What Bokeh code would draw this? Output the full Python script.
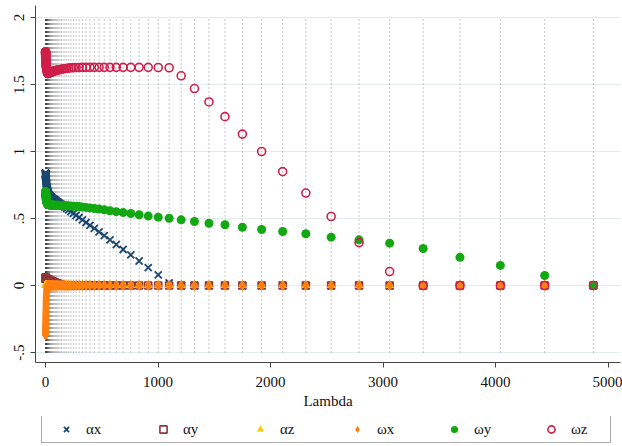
from bokeh.plotting import figure
from bokeh.layouts import column
from bokeh.models import Range1d, FixedTicker, Legend, LegendItem, ColumnDataSource
from bokeh.embed import file_html
from bokeh.resources import INLINE

# Lambda grid (x values)
lam = [4870, 4437, 4043, 3684, 3357, 3059, 2787, 2539, 2314, 2108,
       1921, 1750, 1595, 1453, 1324, 1206, 1099, 1002, 913, 832,
       758, 690, 629, 573, 522, 476, 434, 395, 360, 328,
       299, 272, 248, 226, 206, 188, 171, 156, 142, 129,
       118, 107, 98, 89, 81, 74, 67, 61.5, 56, 51,
       46.5, 42.4, 38.6, 35.2, 32.1, 29.2, 26.6, 24.2, 22.1, 20.1,
       18.3, 16.7, 15.2, 13.9, 12.6, 11.5, 10.5, 9.6, 8.7, 7.9,
       7.2, 6.6, 6.0, 5.5, 5.0, 4.5, 4.1, 3.8, 3.4, 3.1,
       2.85, 2.6, 2.37, 2.16, 1.97, 1.79, 1.63, 1.49, 1.36, 1.24,
       1.13, 1.03, 0.94, 0.85, 0.78, 0.71, 0.65, 0.59, 0.54, 0.49]

alpha_x = [0, 0, 0, 0, 0, 0, 0, 0, 0, 0,
           0, 0, 0, 0, 0, 0, 0.02, 0.079, 0.133, 0.183,
           0.228, 0.269, 0.306, 0.340, 0.372, 0.400, 0.426, 0.449, 0.470, 0.490,
           0.508, 0.524, 0.539, 0.552, 0.564, 0.575, 0.586, 0.595, 0.603, 0.611,
           0.618, 0.624, 0.630, 0.636, 0.640, 0.645, 0.649, 0.652, 0.656, 0.659,
           0.662, 0.665, 0.668, 0.671, 0.675, 0.679, 0.684, 0.689, 0.694, 0.700,
           0.706, 0.712, 0.718, 0.724, 0.730, 0.736, 0.742, 0.748, 0.754, 0.760,
           0.765, 0.770, 0.775, 0.780, 0.785, 0.789, 0.793, 0.797, 0.801, 0.804,
           0.807, 0.810, 0.813, 0.816, 0.818, 0.820, 0.822, 0.824, 0.826, 0.828,
           0.830, 0.831, 0.832, 0.833, 0.834, 0.835, 0.836, 0.837, 0.838, 0.839]

alpha_y = [0, 0, 0, 0, 0, 0, 0, 0, 0, 0,
           0, 0, 0, 0, 0, 0, 0, 0, 0, 0,
           0, 0, 0, 0, 0, 0, 0, 0, 0, 0,
           0, 0, 0, 0, 0, 0, 0, 0.002, 0.005, 0.008,
           0.011, 0.014, 0.017, 0.020, 0.023, 0.026, 0.028, 0.030, 0.032, 0.034,
           0.036, 0.037, 0.038, 0.039, 0.040, 0.041, 0.042, 0.043, 0.044, 0.045,
           0.046, 0.046, 0.047, 0.047, 0.048, 0.048, 0.049, 0.049, 0.050, 0.050,
           0.050, 0.050, 0.051, 0.051, 0.051, 0.051, 0.052, 0.052, 0.052, 0.052,
           0.053, 0.053, 0.053, 0.053, 0.054, 0.054, 0.054, 0.054, 0.055, 0.055,
           0.055, 0.055, 0.056, 0.056, 0.056, 0.056, 0.057, 0.057, 0.057, 0.057]

alpha_z = [0] * 100

omega_x = [0, 0, 0, 0, 0, 0, 0, 0, 0, 0,
           0, 0, 0, 0, 0, 0, 0, 0, 0, 0,
           0, 0, 0, 0, 0, 0, 0, 0, 0, 0,
           0, 0, 0, 0, 0, 0, 0, 0, 0, 0,
           0, 0, 0, 0, 0, 0, 0, 0, 0, 0,
           0, 0, 0, 0, 0, 0, 0, 0, 0, 0,
           0, 0, -0.004, -0.010, -0.018, -0.027, -0.037, -0.048, -0.060, -0.072,
           -0.085, -0.098, -0.111, -0.124, -0.137, -0.150, -0.163, -0.176, -0.189, -0.201,
           -0.213, -0.225, -0.237, -0.248, -0.259, -0.270, -0.280, -0.290, -0.300, -0.309,
           -0.318, -0.326, -0.334, -0.341, -0.348, -0.354, -0.359, -0.363, -0.367, -0.370]

omega_y = [0, 0.075, 0.150, 0.210, 0.276, 0.316, 0.341, 0.361, 0.386, 0.403,
           0.418, 0.435, 0.453, 0.465, 0.478, 0.490, 0.502, 0.510, 0.518, 0.528,
           0.537, 0.544, 0.551, 0.558, 0.565, 0.570, 0.575, 0.579, 0.583, 0.586,
           0.589, 0.591, 0.592, 0.593, 0.594, 0.595, 0.596, 0.596, 0.597, 0.597,
           0.598, 0.598, 0.598, 0.599, 0.599, 0.599, 0.600, 0.600, 0.600, 0.601,
           0.601, 0.601, 0.602, 0.602, 0.602, 0.603, 0.603, 0.604, 0.604, 0.605,
           0.607, 0.610, 0.613, 0.616, 0.619, 0.622, 0.626, 0.630, 0.634, 0.638,
           0.642, 0.646, 0.650, 0.654, 0.658, 0.661, 0.664, 0.667, 0.670, 0.673,
           0.676, 0.678, 0.680, 0.682, 0.684, 0.686, 0.688, 0.690, 0.691, 0.692,
           0.693, 0.694, 0.695, 0.696, 0.697, 0.698, 0.698, 0.699, 0.699, 0.700]

omega_z = [0, 0, 0, 0, 0, 0.104, 0.320, 0.515, 0.690, 0.850,
           1.000, 1.130, 1.260, 1.370, 1.470, 1.565, 1.625, 1.627, 1.628, 1.628,
           1.628, 1.628, 1.628, 1.628, 1.628, 1.628, 1.628, 1.628, 1.628, 1.628,
           1.627, 1.627, 1.626, 1.625, 1.622, 1.620, 1.618, 1.616, 1.614, 1.612,
           1.610, 1.608, 1.606, 1.604, 1.602, 1.600, 1.598, 1.596, 1.594, 1.592,
           1.590, 1.589, 1.588, 1.587, 1.586, 1.585, 1.584, 1.583, 1.582, 1.582,
           1.585, 1.590, 1.595, 1.600, 1.605, 1.610, 1.615, 1.620, 1.625, 1.630,
           1.635, 1.640, 1.645, 1.650, 1.655, 1.660, 1.665, 1.670, 1.675, 1.680,
           1.684, 1.688, 1.692, 1.696, 1.700, 1.704, 1.708, 1.712, 1.716, 1.720,
           1.723, 1.726, 1.729, 1.732, 1.735, 1.737, 1.739, 1.741, 1.743, 1.745]

x_ticks = [0, 1000, 2000, 3000, 4000, 5000]
y_ticks = [-0.5, 0, 0.5, 1, 1.5, 2]
y_tick_labels = ["-.5", "0", ".5", "1", "1.5", "2"]
series_labels = ["\u03b1x", "\u03b1y", "\u03b1z", "\u03c9x", "\u03c9y", "\u03c9z"]
x_label = "Lambda"

FONT = "Liberation Serif"

# marker styles per series (same order as series_labels)
styles = [
    dict(marker="x", size=10, line_color="#1a476f", line_width=1.8),
    dict(marker="square", size=7, fill_color=None, line_color="#90353b", line_width=1.6),
    dict(marker="triangle", size=9, fill_color="#ffc800", line_color=None),
    dict(marker="diamond", size=11, fill_color="#ff7f0e", line_color=None),
    dict(marker="circle", size=9, fill_color="#12a812", line_color=None),
    dict(marker="circle", size=8, fill_color=None, line_color="#cf1f4a", line_width=1.6),
]
columns = ["ax", "ay", "az", "wx", "wy", "wz"]

src = ColumnDataSource(dict(lam=lam, ax=alpha_x, ay=alpha_y, az=alpha_z,
                            wx=omega_x, wy=omega_y, wz=omega_z))

p = figure(width=622, height=416, output_backend="svg", toolbar_location=None,
           x_range=Range1d(-89, 5111), y_range=Range1d(-0.5746, 2.0896),
           min_border_left=35, min_border_right=2, min_border_top=5,
           min_border_bottom=54)
p.outline_line_color = None
p.background_fill_color = "white"
p.border_fill_color = "white"

# vertical dotted reference lines at each lambda
p.segment(x0="lam", y0=-0.5, x1="lam", y1=2, source=src,
          line_color="#505050", line_width=1, line_dash="1 3", line_alpha=0.65)

for col, st in zip(columns, styles):
    p.scatter("lam", col, source=src, **st)

# axes
p.xaxis.ticker = FixedTicker(ticks=x_ticks)
p.yaxis.ticker = FixedTicker(ticks=y_ticks)
p.yaxis.major_label_overrides = {t: s for t, s in zip(y_ticks, y_tick_labels)}
p.yaxis.major_label_orientation = "vertical"
p.xaxis.axis_label = x_label
for ax in (p.xaxis, p.yaxis):
    ax.axis_line_color = "#444444"
    ax.major_tick_line_color = "#444444"
    ax.major_tick_out = 5
    ax.major_tick_in = 0
    ax.minor_tick_line_color = None
    ax.major_label_text_font = FONT
    ax.major_label_text_font_size = "15px"
    ax.major_label_text_color = "#111111"
    ax.axis_label_text_font = FONT
    ax.axis_label_text_font_size = "15px"
    ax.axis_label_text_font_style = "normal"
    ax.axis_label_text_color = "#111111"
p.xaxis.major_label_standoff = 9
p.xaxis.axis_label_standoff = 3
p.yaxis.major_label_standoff = 6

p.xgrid.grid_line_color = None
p.ygrid.grid_line_color = "#e2ecef"
p.ygrid.grid_line_width = 1

# legend strip below the plot; its renderers share the data but the view
# range is placed where no lambda value falls, so only the legend shows
lg = figure(width=622, height=30, output_backend="svg", toolbar_location=None,
            x_range=Range1d(-2, -1), y_range=Range1d(0, 1),
            x_axis_type=None, y_axis_type=None, min_border=0)
lg.outline_line_color = None
lg.xgrid.visible = False
lg.ygrid.visible = False
legend_renderers = [lg.scatter("lam", col, source=src, **st)
                    for col, st in zip(columns, styles)]

legend = Legend(items=[LegendItem(label=l, renderers=[r]) for l, r in
                       zip(series_labels, legend_renderers)],
                orientation="horizontal", location=(6, 3),
                glyph_width=40, glyph_height=18, label_standoff=0,
                label_width=35, spacing=22, padding=4, margin=0,
                label_text_font=FONT, label_text_font_size="15px",
                label_text_color="#111111",
                border_line_color="#555555", border_line_width=1,
                background_fill_color="white", background_fill_alpha=1)
lg.add_layout(legend, "center")

layout = column(p, lg, spacing=0)
open("out.html", "w").write(file_html(layout, INLINE))
